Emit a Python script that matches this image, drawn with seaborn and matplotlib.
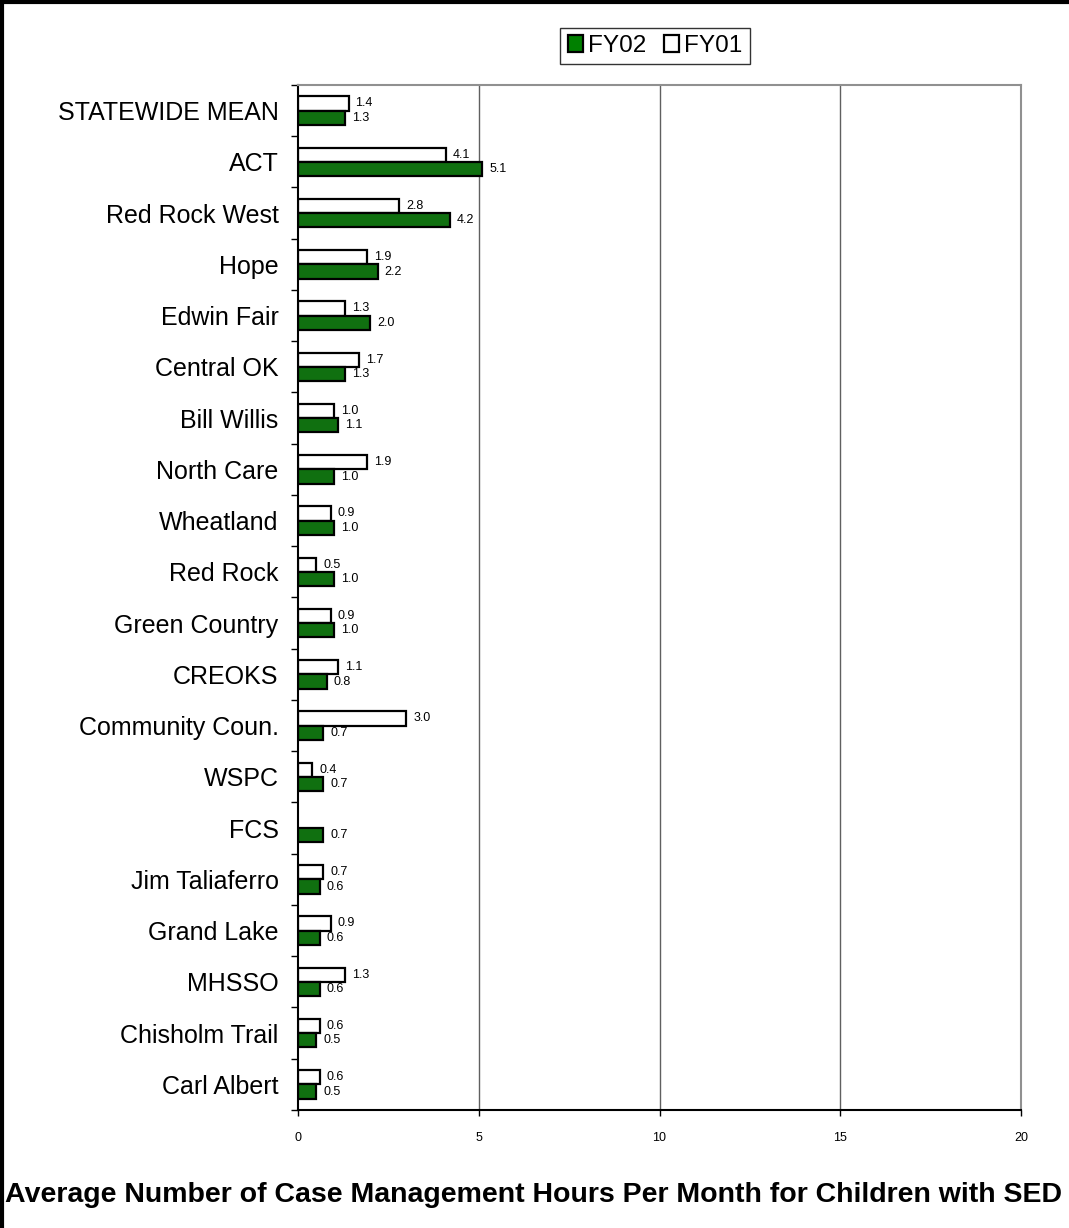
import matplotlib
matplotlib.use("Agg")
import matplotlib.pyplot as plt
import numpy as np
import pandas as pd
import seaborn as sns
from matplotlib.patches import Patch
from matplotlib.lines import Line2D

# Chart data
centers = ['STATEWIDE MEAN', 'ACT', 'Red Rock West', 'Hope', 'Edwin Fair',
           'Central OK', 'Bill Willis', 'North Care', 'Wheatland', 'Red Rock',
           'Green Country', 'CREOKS', 'Community Coun.', 'WSPC', 'FCS',
           'Jim Taliaferro', 'Grand Lake', 'MHSSO', 'Chisholm Trail', 'Carl Albert']
fy02 = [1.3, 5.1, 4.2, 2.2, 2.0, 1.3, 1.1, 1.0, 1.0, 1.0,
        1.0, 0.8, 0.7, 0.7, 0.7, 0.6, 0.6, 0.6, 0.5, 0.5]
fy01 = [1.4, 4.1, 2.8, 1.9, 1.3, 1.7, 1.0, 1.9, 0.9, 0.5,
        0.9, 1.1, 3.0, 0.4, np.nan, 0.7, 0.9, 1.3, 0.6, 0.6]
x_ticks = [0, 5, 10, 15, 20]
title = 'Average Number of Case Management Hours Per Month for Children with SED'

green = '#008000'

df = pd.DataFrame({'center': centers * 2,
                   'hours': fy01 + fy02,
                   'year': ['FY01'] * len(centers) + ['FY02'] * len(centers)})

sns.set_style('white')
plt.rcParams['font.family'] = ['Liberation Sans', 'DejaVu Sans']
plt.rcParams['text.color'] = 'black'
plt.rcParams['xtick.color'] = 'black'
plt.rcParams['ytick.color'] = 'black'
plt.rcParams['axes.labelcolor'] = 'black'

fig = plt.figure(figsize=(10.69, 12.28), dpi=100)
ax = fig.add_axes([298 / 1069, 1 - 1110 / 1228, (1021 - 298) / 1069, (1110 - 85) / 1228])

sns.barplot(data=df, y='center', x='hours', hue='year', hue_order=['FY01', 'FY02'],
            order=centers, orient='h', palette={'FY01': 'white', 'FY02': green},
            width=0.56, edgecolor='black', linewidth=1.6, legend=False, ax=ax)

# value labels
for cont in ax.containers:
    labels = ['' if np.isnan(v) else f'{v:.1f}' for v in cont.datavalues]
    ax.bar_label(cont, labels=labels, padding=5, fontsize=9, color='black')

ax.set_xlim(0, 20)
ax.set_ylim(len(centers) - 0.5, -0.5)
ax.set_xticks(x_ticks)
ax.set_xticklabels([str(t) for t in x_ticks], fontsize=9)
ax.tick_params(axis='x', length=4, width=1, color='black', pad=12, direction='out', bottom=True)

# category labels at centres, tick marks at boundaries
ax.set_yticks(np.arange(len(centers) + 1) - 0.5)
ax.set_yticklabels([])
ax.tick_params(axis='y', which='major', length=5, width=1, color='black', left=True)
ax.set_yticks(np.arange(len(centers)), minor=True)
ax.set_yticklabels(centers, minor=True, fontsize=18)
ax.tick_params(axis='y', which='minor', length=0, pad=14)

ax.set_xlabel('')
ax.set_ylabel('')

for x in x_ticks[1:-1]:
    ax.axvline(x, color='#606060', linewidth=1, zorder=0)

for side in ['top', 'right']:
    ax.spines[side].set_color('#909090')
    ax.spines[side].set_linewidth(1.5)
for side in ['left', 'bottom']:
    ax.spines[side].set_color('black')
    ax.spines[side].set_linewidth(1.5)

handles = [Patch(facecolor=green, edgecolor='black', linewidth=1.6, label='FY02'),
           Patch(facecolor='white', edgecolor='black', linewidth=1.6, label='FY01')]
leg = fig.legend(handles=handles, loc='center', bbox_to_anchor=(655 / 1069, 1 - 46 / 1228),
                 ncol=2, fontsize=17.5, frameon=True, fancybox=False, shadow=False,
                 handlelength=0.65, handleheight=0.65, handletextpad=0.2,
                 columnspacing=0.7, borderpad=0.3, borderaxespad=0)
leg.get_frame().set_edgecolor('black')
leg.get_frame().set_linewidth(1)

fig.text(5 / 1069, 1 - 1195 / 1228, title, fontsize=20.5, fontweight='bold',
         ha='left', va='center')

# outer frame (left and top edges)
fig.add_artist(Line2D([2 / 1069, 2 / 1069], [0, 1], color='black', linewidth=3,
                      transform=fig.transFigure))
fig.add_artist(Line2D([0, 1], [1 - 2 / 1228, 1 - 2 / 1228], color='black', linewidth=3,
                      transform=fig.transFigure))

fig.savefig('out.png', dpi=100, facecolor='white')
